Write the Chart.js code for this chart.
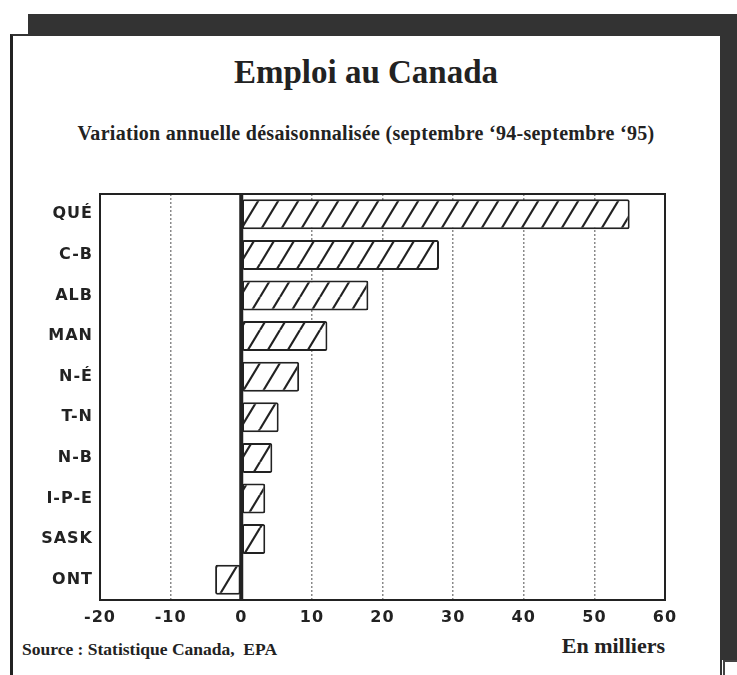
<!DOCTYPE html>
<html lang="fr">
<head>
<meta charset="utf-8">
<title>Emploi au Canada</title>
<script src="https://cdn.jsdelivr.net/npm/chart.js@4"></script>
<style>
  body { margin: 0; width: 737px; height: 675px; overflow: hidden; background: #fff; position: relative; }
  .ombre-haut { position: absolute; left: 28px; top: 14px; width: 709px; height: 21px; background: #333; }
  .ombre-droite { position: absolute; left: 720px; top: 14px; width: 17px; height: 646px; background: #333; }
  .coin { position: absolute; left: 723px; top: 660px; width: 20px; height: 30px; border-left: 2px solid #444; border-top: 2px solid #444; }
  .cadre { position: absolute; left: 10px; top: 34px; width: 707px; height: 700px; background: #fff;
           border-left: 3px solid #222; border-top: 2px solid #333; border-right: 2px solid #333; }
  .texte { position: absolute; font-family: 'Liberation Serif', 'Times New Roman', serif; font-weight: bold; color: #222; white-space: nowrap; }
  #titre { left: 0; width: 732px; top: 56px; text-align: center; font-size: 33px; line-height: 33px; }
  #sous-titre { left: 0; width: 732px; top: 123px; text-align: center; font-size: 20px; line-height: 20px; letter-spacing: 0.3px; }
  #source { left: 22px; top: 641px; font-size: 17.5px; line-height: 17px; }
  #unite { right: 72px; top: 635px; font-size: 22px; line-height: 22px; }
  #zone { position: absolute; left: 0; top: 0; width: 737px; height: 675px; }
</style>
</head>
<body>
<div class="ombre-haut"></div>
<div class="ombre-droite"></div>
<div class="coin"></div>
<div class="cadre"></div>
<div class="texte" id="titre">Emploi au Canada</div>
<div class="texte" id="sous-titre">Variation annuelle désaisonnalisée (septembre ‘94-septembre ‘95)</div>
<div class="texte" id="source">Source : Statistique Canada,&nbsp; EPA</div>
<div class="texte" id="unite">En milliers</div>
<div id="zone"><canvas id="emploiChart" width="737" height="675"></canvas></div>

<script>
// Provinces, de haut en bas
const provinces = ['QUÉ', 'C-B', 'ALB', 'MAN', 'N-É', 'T-N', 'N-B', 'I-P-E', 'SASK', 'ONT'];
// Variation de l'emploi, en milliers
const variations = [55, 28, 18, 12.2, 8.2, 5.3, 4.4, 3.4, 3.4, -3.7];
// Bornes et pas de l'axe horizontal
const axeMin = -20;
const axeMax = 60;
const axePas = 10;

const encre = '#222';

// Motif hachuré des barres (traits obliques « / »)
function creerHachures(ctx) {
  const tuile = document.createElement('canvas');
  tuile.width = 20;
  tuile.height = 33;
  const g = tuile.getContext('2d');
  g.fillStyle = '#fff';
  g.fillRect(0, 0, 20, 33);
  g.strokeStyle = encre;
  g.lineWidth = 2.2;
  [-20, 0, 20].forEach(dx => {
    g.beginPath();
    g.moveTo(dx, 33);
    g.lineTo(dx + 20, 0);
    g.stroke();
  });
  return ctx.createPattern(tuile, 'repeat');
}

// Lettres des axes un peu espacées, comme la police large de l'original
const espacementPlugin = {
  id: 'espacement',
  beforeUpdate(chart) { chart.ctx.letterSpacing = '1px'; },
  beforeDraw(chart) { chart.ctx.letterSpacing = '1px'; },
};

// Cadre complet de la zone de tracé + ligne du zéro
const cadrePlugin = {
  id: 'cadre',
  afterDatasetsDraw(chart) {
    const { ctx, chartArea: a } = chart;
    const x0 = chart.scales.x.getPixelForValue(0);
    ctx.save();
    ctx.strokeStyle = encre;
    ctx.lineWidth = 2;
    ctx.strokeRect(a.left, a.top, a.right - a.left, a.bottom - a.top);
    ctx.lineWidth = 4;
    ctx.beginPath();
    ctx.moveTo(x0, a.top);
    ctx.lineTo(x0, a.bottom);
    ctx.stroke();
    ctx.restore();
  },
};

const canvas = document.getElementById('emploiChart');
const hachures = creerHachures(canvas.getContext('2d'));
const policeAxes = { family: "'DejaVu Sans', sans-serif", size: 16, weight: 'bold' };

new Chart(canvas, {
  type: 'bar',
  data: {
    labels: provinces,
    datasets: [{
      data: variations,
      backgroundColor: hachures,
      borderColor: encre,
      borderWidth: 2,
      borderRadius: 2,
      borderSkipped: false,
      barPercentage: 0.74,
      categoryPercentage: 1,
    }],
  },
  options: {
    indexAxis: 'y',
    responsive: false,
    animation: false,
    layout: { padding: { left: 0, right: 72, top: 194, bottom: 15 } },
    plugins: {
      legend: { display: false },
      tooltip: { enabled: false },
    },
    scales: {
      x: {
        min: axeMin,
        max: axeMax,
        afterFit(scale) { scale.height = 60; },
        ticks: { stepSize: axePas, color: encre, font: policeAxes, padding: 8 },
        grid: {
          drawTicks: false,
          lineWidth: 1.5,
          color: ctx => ([axeMin, 0, axeMax].includes(ctx.tick && ctx.tick.value) ? 'rgba(0,0,0,0)' : '#8a8a8a'),
        },
        border: { color: encre, width: 2, dash: [2, 2] },
      },
      y: {
        afterFit(scale) { scale.width = 100; },
        ticks: { color: encre, font: policeAxes, padding: 7 },
        grid: { display: false, drawTicks: false },
        border: { color: encre, width: 2 },
      },
    },
  },
  plugins: [espacementPlugin, cadrePlugin],
});
</script>
</body>
</html>
